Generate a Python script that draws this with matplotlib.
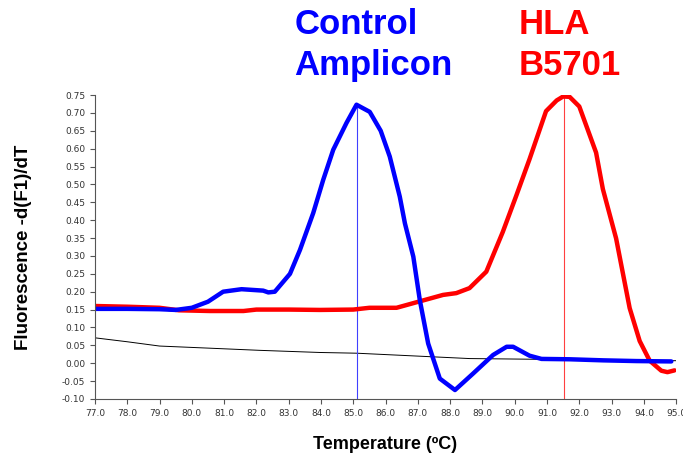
import matplotlib.pyplot as plt
import numpy as np

plt.rcParams['font.family'] = ['Liberation Sans', 'DejaVu Sans']

# control amplicon melt curve (blue)
ctrl_temp = [77.0, 78.0, 79.0, 79.5, 80.0, 80.5, 80.97, 81.54, 82.21, 82.37, 82.57,
             83.04, 83.35, 83.76, 84.07, 84.38, 84.79, 85.10, 85.51, 85.85, 86.13,
             86.44, 86.60, 86.86, 87.06, 87.32, 87.68, 88.15, 88.71, 89.33, 89.75,
             89.95, 90.46, 90.83, 91.70, 92.74, 93.77, 94.85]
ctrl_val = [0.152, 0.152, 0.151, 0.149, 0.155, 0.172, 0.200, 0.207, 0.203, 0.198, 0.200,
            0.250, 0.317, 0.420, 0.513, 0.597, 0.672, 0.723, 0.703, 0.650, 0.578,
            0.466, 0.391, 0.298, 0.177, 0.055, -0.043, -0.075, -0.029, 0.023, 0.046,
            0.046, 0.021, 0.012, 0.011, 0.008, 0.006, 0.005]

# HLA B5701 melt curve (red)
hla_temp = [77.0, 78.0, 79.0, 79.6, 80.56, 81.6, 82.0, 83.0, 83.97, 85.0, 85.5,
            86.34, 87.06, 87.78, 88.19, 88.6, 89.12, 89.63, 90.05, 90.46, 90.97,
            91.3, 91.5, 91.7, 92.0, 92.52, 92.73, 93.14, 93.56, 93.87, 94.18,
            94.54, 94.73, 94.95]
hla_val = [0.160, 0.158, 0.155, 0.148, 0.146, 0.146, 0.150, 0.150, 0.149, 0.150, 0.155,
           0.155, 0.173, 0.191, 0.196, 0.210, 0.256, 0.367, 0.469, 0.571, 0.705,
           0.735, 0.746, 0.745, 0.718, 0.589, 0.487, 0.349, 0.154, 0.062, 0.007,
           -0.021, -0.025, -0.020]

# baseline (black)
base_temp = [77.0, 78.0, 79.0, 80.56, 82.1, 83.97, 85.1, 86.5, 88.6, 90.67, 92.5, 95.0]
base_val = [0.071, 0.060, 0.048, 0.042, 0.036, 0.030, 0.028, 0.022, 0.013, 0.011, 0.009, 0.007]

ctrl_tm = 85.13
hla_tm = 91.53

fig = plt.figure(figsize=(6.83, 4.57), dpi=100)
ax = fig.add_axes([0.139, 0.127, 0.851, 0.665])

ax.plot(base_temp, base_val, color='black', lw=0.7)
ax.vlines(ctrl_tm, -0.10, 0.723, color='#4040ff', lw=0.8)
ax.vlines(hla_tm, -0.10, 0.746, color='#ff4040', lw=0.8)
ax.plot(hla_temp, hla_val, color='#ff0000', lw=3.2, solid_capstyle='round')
ax.plot(ctrl_temp, ctrl_val, color='#0000ff', lw=3.2, solid_capstyle='round')

ax.set_xlim(77, 95)
ax.set_ylim(-0.10, 0.75)
xt = np.arange(77, 95.5, 1.0)
yt = np.arange(-0.10, 0.76, 0.05)
ax.set_xticks(xt)
ax.set_xticklabels(['%.1f' % t for t in xt], family='DejaVu Sans')
ax.set_yticks(yt)
ax.set_yticklabels(['%.2f' % v for v in yt], family='DejaVu Sans')
ax.tick_params(labelsize=6.5, labelcolor='#333333', color='#555555', length=3.5, width=0.8)

ax.spines['top'].set_visible(False)
ax.spines['right'].set_visible(False)
ax.spines['left'].set_color('#555555')
ax.spines['bottom'].set_color('#555555')

ax.set_xlabel('Temperature (ºC)', fontsize=13, fontweight='bold', labelpad=13)
ax.set_ylabel('Fluorescence -d(F1)/dT', fontsize=13.5, fontweight='bold')
ax.yaxis.set_label_coords(-0.108, 0.50)

# peak labels
fig.text(0.431, 1 - 34 / 457, 'Control', color='#0000ff', fontsize=25,
         fontweight='bold', va='baseline', ha='left')
fig.text(0.431, 1 - 75 / 457, 'Amplicon', color='#0000ff', fontsize=25,
         fontweight='bold', va='baseline', ha='left')
fig.text(0.760, 1 - 34 / 457, 'HLA', color='#ff0000', fontsize=25,
         fontweight='bold', va='baseline', ha='left')
fig.text(0.760, 1 - 75 / 457, 'B5701', color='#ff0000', fontsize=25,
         fontweight='bold', va='baseline', ha='left')

fig.savefig('out.png', dpi=100)
